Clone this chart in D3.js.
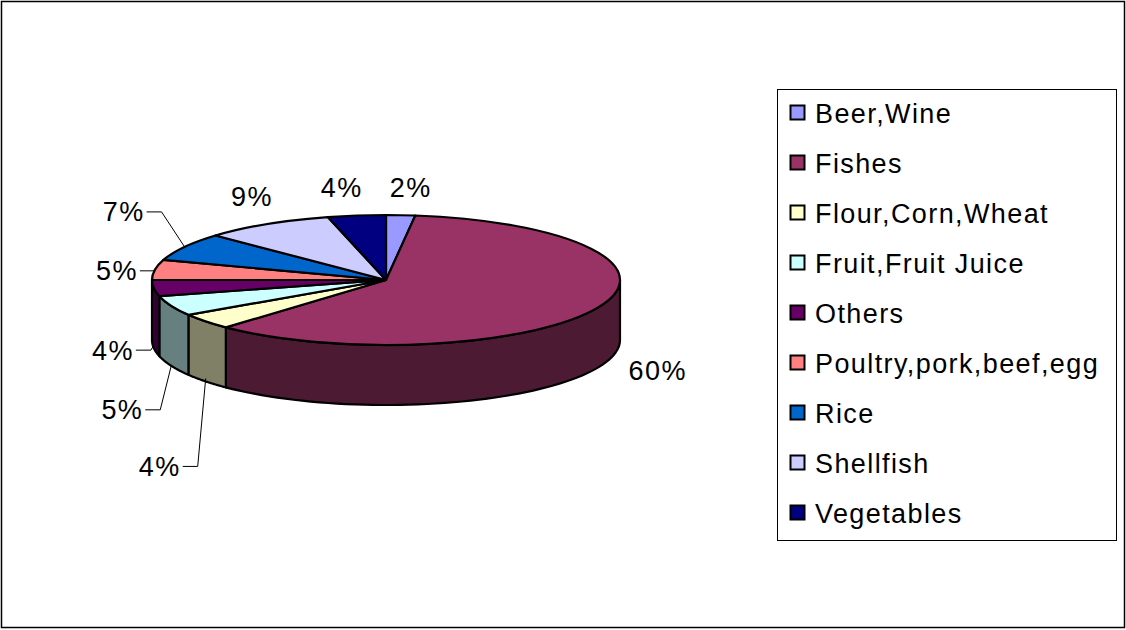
<!DOCTYPE html>
<html><head><meta charset="utf-8">
<script src="https://cdn.jsdelivr.net/npm/d3@7"></script>
<style>body{margin:0;background:#fff}svg{font-family:"Liberation Sans",Arial,sans-serif}</style>
</head><body>
<script>
// chart data
const categories = ["Beer,Wine","Fishes","Flour,Corn,Wheat","Fruit,Fruit Juice","Others","Poultry,pork,beef,egg","Rice","Shellfish","Vegetables"];
const values = [2, 60, 4, 5, 4, 5, 7, 9, 4];
const labels = ["2%","60%","4%","5%","4%","5%","7%","9%","4%"];
const topColors = ["#9999FF","#993366","#FFFFCC","#CCFFFF","#660066","#FF8080","#0066CC","#CCCCFF","#000080"];

const W = 1126, H = 630;
const cx = 386, cy = 280, rx = 234, ry = 65, depth = 60;

const svg = d3.select("body").append("svg").attr("width", W).attr("height", H);
svg.append("rect").attr("x", 1.5).attr("y", 1.5).attr("width", W - 3).attr("height", H - 4)
  .attr("fill", "#fff").attr("stroke", "#000").attr("stroke-width", 1.5);

const pie = d3.pie().sort(null).value(d => d)(values);
const pt = (t, dy = 0) => [cx + rx * Math.sin(t), cy - ry * Math.cos(t) + dy];
const dark = c => { const r = d3.rgb(c); return d3.rgb(r.r * 0.5, r.g * 0.5, r.b * 0.5).formatHex(); };

// side walls (front half only)
pie.forEach((s, i) => {
  const a = Math.max(s.startAngle, Math.PI / 2), b = Math.min(s.endAngle, 1.5 * Math.PI);
  if (a >= b) return;
  const n = 60, top = [], bot = [];
  for (let k = 0; k <= n; k++) {
    const t = a + (b - a) * k / n;
    top.push(pt(t)); bot.push(pt(t, depth));
  }
  svg.append("path").attr("d", d3.line()(top.concat(bot.reverse())) + "Z")
    .attr("fill", dark(topColors[i])).attr("stroke", "#000").attr("stroke-width", 2.2)
    .attr("stroke-linejoin", "round");
});

// top faces
pie.forEach((s, i) => {
  const p0 = pt(s.startAngle), p1 = pt(s.endAngle);
  const large = s.endAngle - s.startAngle > Math.PI ? 1 : 0;
  svg.append("path")
    .attr("d", `M${cx},${cy}L${p0}A${rx},${ry} 0 ${large} 1 ${p1}Z`)
    .attr("fill", topColors[i]).attr("stroke", "#000").attr("stroke-width", 2.2)
    .attr("stroke-linejoin", "round");
});

// percentage labels
const fs = 27, ls = "1.4px";
pie.forEach((s, i) => {
  const m = (s.startAngle + s.endAngle) / 2;
  const deg = m * 180 / Math.PI;
  let tx, ty, anchor = "middle", lead = null, e;
  if (deg > 200 && deg < 310) {
    anchor = "end";
    if (deg < 240) { e = pt(m, depth * 0.95); tx = e[0] - 25; ty = e[1] + 88; }
    else if (deg < 255) { e = pt(m, depth); tx = e[0] - 28; ty = e[1] + 44; }
    else if (deg < 270) { e = pt(m, depth * 0.95); tx = e[0] - 20; ty = e[1] + 5; }
    else if (deg < 285) { e = pt(m); tx = e[0] - 17; ty = e[1] + 1; }
    else { e = pt(m); tx = e[0] - 40; ty = e[1] - 35; }
    lead = [[tx + 2, ty], [tx + 17, ty], e];
  } else if (deg > 90 && deg < 200) {
    e = pt(m, depth);
    tx = e[0] + 60; ty = e[1] + 3;
  } else {
    e = pt(m);
    tx = e[0] + (deg > 180 ? -15 : 10); ty = e[1] - 28;
  }
  if (lead) svg.append("polyline").attr("points", lead.join(" "))
    .attr("fill", "none").attr("stroke", "#000").attr("stroke-width", 1);
  svg.append("text").attr("x", tx).attr("y", ty).attr("dy", "0.35em")
    .attr("text-anchor", anchor).attr("font-size", fs).attr("letter-spacing", ls).text(labels[i]);
});

// legend
const lg = svg.append("g");
lg.append("rect").attr("x", 777.5).attr("y", 89.5).attr("width", 339).attr("height", 451)
  .attr("fill", "#fff").attr("stroke", "#000").attr("stroke-width", 1);
const ly = d3.scalePoint().domain(categories).range([113, 513]);
categories.forEach((c, i) => {
  lg.append("rect").attr("x", 790.5).attr("y", ly(c) - 7.5).attr("width", 14).attr("height", 14)
    .attr("fill", topColors[i]).attr("stroke", "#000").attr("stroke-width", 2);
  lg.append("text").attr("x", 815).attr("y", ly(c)).attr("dy", "0.36em")
    .attr("font-size", fs).attr("letter-spacing", ls).text(c);
});
</script>
</body></html>
